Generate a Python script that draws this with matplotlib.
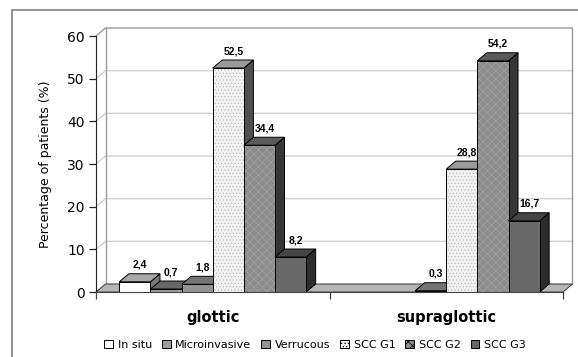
import matplotlib
matplotlib.use('Agg')
import matplotlib.pyplot as plt
from matplotlib.patches import Polygon, Rectangle, Patch
from matplotlib.lines import Line2D
from matplotlib.transforms import IdentityTransform
import numpy as np

###############################
# data
###############################
sites = ['glottic', 'supraglottic']
histology = ['In situ', 'Microinvasive', 'Verrucous', 'SCC G1', 'SCC G2', 'SCC G3']
glottic = [2.4, 0.7, 1.8, 52.5, 34.4, 8.2]
supraglottic = [0.0, 0.0, 0.3, 28.8, 54.2, 16.7]
y_ticks = [0, 10, 20, 30, 40, 50, 60]

###############################
# styling
###############################
front_cols = ['#ffffff', '#9c9c9c', '#939393', '#f2f2f2', '#8c8c8c', '#686868']
top_cols = ['#a8a8a8', '#686868', '#747474', '#9a9a9a', '#5a5a5a', '#464646']
side_cols = ['#7a7a7a', '#4e4e4e', '#555555', '#505050', '#363636', '#2c2c2c']
hatches = [None, None, None, '.....', 'xxxx', None]
hatch_cols = [None, None, None, '#bdbdbd', '#a2a2a2', None]

DX, DY = 9.5, 8.0    # depth offset of the 3d boxes, pixels
W = 1.0 / 7.5        # bar width (gap of 1.5 bar widths)

plt.rcParams['hatch.linewidth'] = 0.5

fig = plt.figure(figsize=(5.78, 3.57), dpi=100)
ax = fig.add_axes([96 / 578, 1 - 292 / 357, (563 - 96) / 578, (292 - 36) / 357])
ax.patch.set_visible(False)
ax.set_xlim(-0.5, 1.5)
ax.set_ylim(0, 60)

xl0, xl1 = ax.get_xlim()


def px(x, y, back=False):
    p = ax.transData.transform((x, y))
    if back:
        p = p + np.array([DX, DY])
    return p


def face(pts, fc, z, lw=0.7, ec='black'):
    ax.add_patch(Polygon(pts, closed=True, transform=IdentityTransform(), clip_on=False,
                         facecolor=fc, edgecolor=ec, linewidth=lw, zorder=z))


def line(pts, col, lw, z):
    pts = np.array(pts)
    ax.add_line(Line2D(pts[:, 0], pts[:, 1], transform=IdentityTransform(), clip_on=False,
                       color=col, linewidth=lw, zorder=z))


# back wall grid and borders
for yv in y_ticks[1:-1]:
    line([px(xl0, yv), px(xl0, yv, True), px(xl1, yv, True)], '#d2d2d2', 1.0, 0.5)
line([px(xl0, 60), px(xl0, 60, True), px(xl1, 60, True), px(xl1, 0, True)], '#9a9a9a', 1.0, 0.6)
line([px(xl0, 0, True), px(xl0, 60, True)], '#9a9a9a', 1.0, 0.6)

# floor
face([px(xl0, 0), px(xl1, 0), px(xl1, 0, True), px(xl0, 0, True)], '#b6b6b6', 1, lw=0.8, ec='#4a4a4a')

###############################
# bars
###############################
z = 2
for i, vals in enumerate([glottic, supraglottic]):
    for k, h in enumerate(vals):
        if h <= 0:
            continue
        x0 = i + (k - 3) * W
        x1 = x0 + W
        face([px(x1, 0), px(x1, h), px(x1, h, True), px(x1, 0, True)], side_cols[k], z)
        face([px(x0, h), px(x1, h), px(x1, h, True), px(x0, h, True)], top_cols[k], z + 0.1)
        if hatches[k]:
            ax.bar(x0, h, width=W, align='edge', color=front_cols[k], hatch=hatches[k],
                   edgecolor=hatch_cols[k], linewidth=0, zorder=z + 0.2, clip_on=False)
            ax.bar(x0, h, width=W, align='edge', fill=False, edgecolor='black',
                   linewidth=0.7, zorder=z + 0.3, clip_on=False)
        else:
            ax.bar(x0, h, width=W, align='edge', color=front_cols[k], edgecolor='black',
                   linewidth=0.7, zorder=z + 0.2, clip_on=False)
        ax.annotate(f'{h:.1f}'.replace('.', ','), (x0 + W / 2, h), xytext=(5, DY + 9),
                    textcoords='offset pixels', ha='center', va='center', fontsize=7.5,
                    fontweight='bold', family='Liberation Sans', zorder=50)
        z += 1

###############################
# axes
###############################
for s in ['top', 'right']:
    ax.spines[s].set_visible(False)
ax.spines['left'].set_color('#222222')
ax.spines['bottom'].set_color('#444444')
ax.spines['left'].set_zorder(40)
ax.spines['bottom'].set_zorder(40)

ax.set_yticks(y_ticks)
ax.tick_params(axis='y', length=5, width=0.9, labelsize=10, pad=3, color='#222222')
ax.set_xticks([0, 1], sites, fontweight='bold')
ax.set_xticks([-0.5, 0.5, 1.5], minor=True)
ax.tick_params(axis='x', which='major', length=0, labelsize=10.5, pad=13)
ax.tick_params(axis='x', which='minor', length=5, width=0.9, color='#444444')

fig.text(46 / 578, 1 - 164 / 357, 'Percentage of patients (%)', rotation=90,
         ha='center', va='center', fontsize=9)

# chart area frame
fig.add_artist(Rectangle((12 / 578, -0.2), 1.2, 1.2 - 10 / 357, transform=fig.transFigure,
                         fill=False, edgecolor='#808080', linewidth=1.2))

handles = [Patch(facecolor=front_cols[k], edgecolor='black', hatch=hatches[k], linewidth=0.7)
           for k in range(len(histology))]
fig.legend(handles, histology, loc='center', bbox_to_anchor=(315 / 578, 1 - 345 / 357),
           ncol=6, frameon=False, fontsize=8, handlelength=0.8, handleheight=0.8,
           handletextpad=0.4, columnspacing=0.9, borderpad=0)

fig.savefig('out.png', dpi=100)
